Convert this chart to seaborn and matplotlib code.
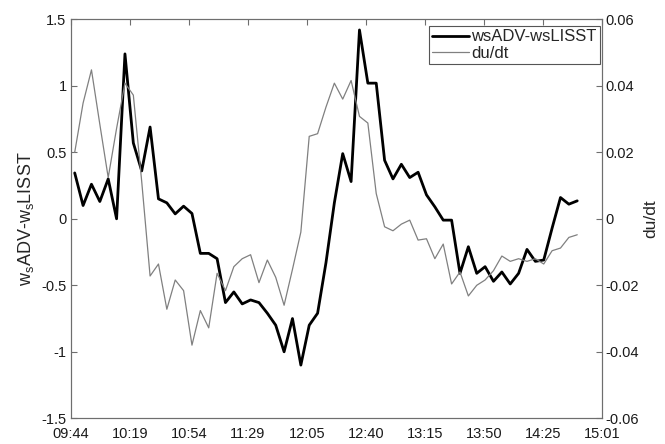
import numpy as np
import pandas as pd
import matplotlib
matplotlib.use("Agg")
import matplotlib.pyplot as plt
import seaborn as sns

# Settling-velocity difference (left axis) and flow acceleration (right axis),
# sampled every 5 minutes; time is given in minutes after 09:44.
sample_start_min = 2.4
sample_step_min = 5.0

ws_diff = [0.345, 0.10, 0.26, 0.13, 0.30, 0.00, 1.24, 0.57, 0.36, 0.69,
           0.15, 0.12, 0.037, 0.095, 0.04, -0.26, -0.26, -0.30, -0.63, -0.55,
           -0.64, -0.61, -0.63, -0.71, -0.80, -1.00, -0.75, -1.10, -0.80, -0.71,
           -0.33, 0.12, 0.49, 0.28, 1.42, 1.02, 1.02, 0.44, 0.30, 0.41,
           0.31, 0.35, 0.18, 0.09, -0.01, -0.01, -0.41, -0.21, -0.41, -0.36,
           -0.47, -0.40, -0.49, -0.41, -0.23, -0.32, -0.31, -0.07, 0.16, 0.11,
           0.135]

dudt = [0.0200, 0.0348, 0.0448, 0.0284, 0.0124, 0.0272, 0.0408, 0.0372, 0.0112, -0.0172,
        -0.0136, -0.0272, -0.0184, -0.0216, -0.0380, -0.0276, -0.0328, -0.0164, -0.0216, -0.0144,
        -0.0120, -0.0108, -0.0192, -0.0124, -0.0176, -0.0260, -0.0152, -0.0040, 0.0248, 0.0256,
        0.0336, 0.0408, 0.0360, 0.0416, 0.0308, 0.0288, 0.0076, -0.0024, -0.0036, -0.0016,
        -0.0004, -0.0064, -0.0060, -0.0120, -0.0076, -0.0196, -0.0160, -0.0232, -0.0200, -0.0184,
        -0.0156, -0.0112, -0.0128, -0.0120, -0.0128, -0.0120, -0.0136, -0.0096, -0.0088, -0.0056,
        -0.0048]

x_tick_labels = ["09:44", "10:19", "10:54", "11:29", "12:05",
                 "12:40", "13:15", "13:50", "14:25", "15:01"]
x_span_min = 317.0

left_ticks = [-1.5, -1, -0.5, 0, 0.5, 1, 1.5]
left_tick_labels = ["-1.5", "-1", "-0.5", "0", "0.5", "1", "1.5"]
right_ticks = [-0.06, -0.04, -0.02, 0, 0.02, 0.04, 0.06]
right_tick_labels = ["-0.06", "-0.04", "-0.02", "0", "0.02", "0.04", "0.06"]

t_min = sample_start_min + sample_step_min * np.arange(len(ws_diff))
df = pd.DataFrame({"t": t_min, "ws": ws_diff, "dudt": dudt})

sns.set_style("white")
plt.rcParams["font.family"] = ["Liberation Sans", "DejaVu Sans"]
plt.rcParams["mathtext.fontset"] = "custom"
plt.rcParams["mathtext.rm"] = "Liberation Sans"
plt.rcParams["mathtext.it"] = "Liberation Sans"

fig = plt.figure(figsize=(6.65, 4.44), dpi=100)
ax = fig.add_axes([0.1063, 0.0579, 0.7985, 0.8986])
ax2 = ax.twinx()

sns.lineplot(data=df, x="t", y="ws", ax=ax, color="black", linewidth=2.0,
             label="wsADV-wsLISST", legend=False)
sns.lineplot(data=df, x="t", y="dudt", ax=ax2, color="#808080", linewidth=0.9,
             label="du/dt", legend=False)

ax.set_xlim(0, x_span_min)
ax.set_ylim(-1.5, 1.5)
ax2.set_ylim(-0.06, 0.06)

ax.set_xticks(np.linspace(0, x_span_min, len(x_tick_labels)))
ax.set_xticklabels(x_tick_labels)
ax.set_yticks(left_ticks)
ax.set_yticklabels(left_tick_labels)
ax2.set_yticks(right_ticks)
ax2.set_yticklabels(right_tick_labels)

ax.set_xlabel("")
ax.set_ylabel(r"w$_{\mathrm{s}}$ADV-w$_{\mathrm{s}}$LISST", fontsize=13, labelpad=4)
ax2.set_ylabel("du/dt", fontsize=12.5, labelpad=3)

spine_col = "#6e6e6e"
for a in (ax, ax2):
    for s in a.spines.values():
        s.set_color(spine_col)
        s.set_linewidth(0.8)
ax.tick_params(axis="x", direction="in", length=4, color=spine_col,
               labelsize=10.5, top=True, pad=6, labelcolor="#1a1a1a")
ax.tick_params(axis="y", direction="in", length=4, color=spine_col,
               labelsize=10.5, right=False, pad=3, labelcolor="#1a1a1a")
ax2.tick_params(axis="y", direction="in", length=4, color=spine_col,
                labelsize=10.5, pad=3, labelcolor="#1a1a1a")

h1, l1 = ax.get_legend_handles_labels()
h2, l2 = ax2.get_legend_handles_labels()
leg = ax2.legend(h1 + h2, l1 + l2, loc="upper right", fontsize=12,
                 frameon=True, fancybox=False, framealpha=1,
                 edgecolor="#555555", borderpad=0.2, handlelength=2.2,
                 handletextpad=0.15, labelspacing=0.1, borderaxespad=0,
                 bbox_to_anchor=(0.997, 0.983))
leg.get_frame().set_linewidth(0.8)

fig.savefig("out.png", dpi=100)
